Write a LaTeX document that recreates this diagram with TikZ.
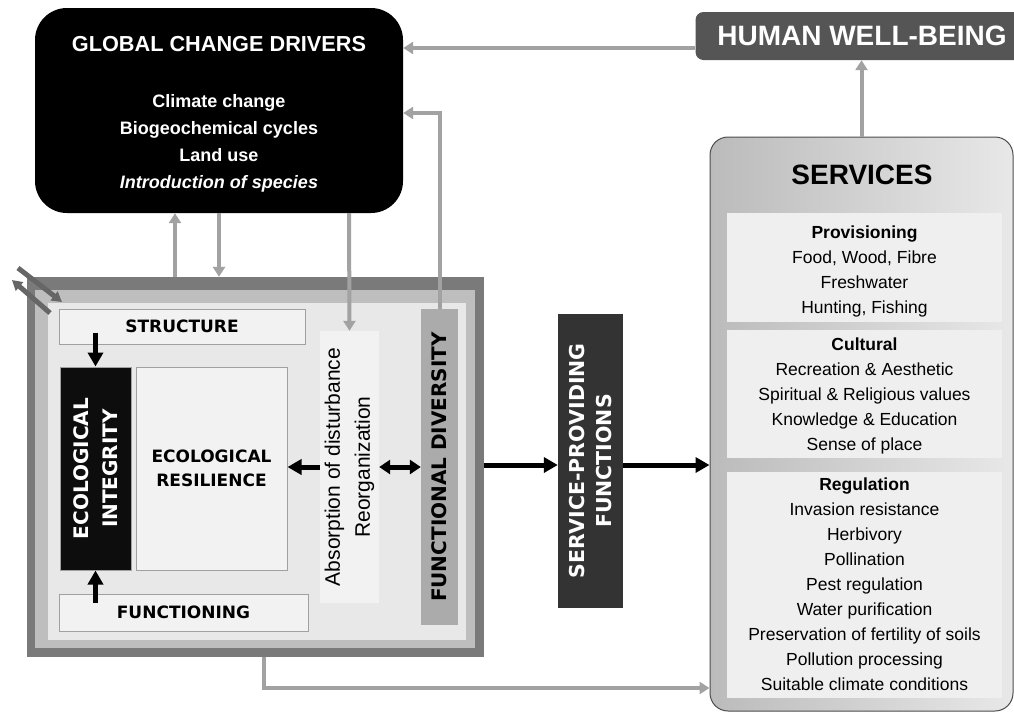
\documentclass[tikz,border=0pt]{standalone}
\usepackage{fontspec}
\setmainfont{Liberation Sans}
\newfontfamily\verdfont{DejaVu Sans}
\usetikzlibrary{arrows.meta}
\definecolor{arrowgray}{HTML}{A2A2A2}
\definecolor{cornergray}{HTML}{666666}
\definecolor{hwbgray}{HTML}{555555}
\definecolor{servleft}{HTML}{BBBBBB}
\definecolor{servright}{HTML}{E8E8E8}
\definecolor{sectionfill}{HTML}{EFEFEF}
\definecolor{framedark}{HTML}{7A7A7A}
\definecolor{frameband}{HTML}{BEBEBE}
\definecolor{framelight}{HTML}{E8E8E8}
\definecolor{boxlight}{HTML}{F2F2F2}
\definecolor{boxline}{HTML}{A0A0A0}
\definecolor{fdivgray}{HTML}{ABABAB}
\definecolor{spfdark}{HTML}{333333}
\tikzset{
    grayarrow/.style={-{Triangle[length=10pt,width=12pt]}, line width=4pt, arrowgray},
    blackarrow/.style={-{Triangle[length=14pt,width=15pt]}, line width=5pt, black},
    dblarrow/.style={{Triangle[length=11pt,width=14pt]}-{Triangle[length=11pt,width=14pt]}, line width=5pt, black},
    cornerarrow/.style={-{Triangle[length=10pt,width=11pt]}, line width=5pt, cornergray},
    panel/.style={inner sep=0pt, align=center},
    framebox/.style={panel, fill=boxlight, draw=boxline, line width=1pt},
    framelabel/.style={font={\verdfont\bfseries\fontsize{17}{24}\selectfont}},
    secbox/.style={panel, fill=sectionfill, minimum width=275},
    servtext/.style={panel, font={\fontsize{17.5}{25}\selectfont}}
}
\begin{document}
\begin{tikzpicture}[x=1pt, y=-1pt]
    \clip (0,0) rectangle (1014,713);
    % drivers and well-being
    \node[panel, fill=black, rounded corners=32pt, minimum width=368, minimum height=205] (gcd) at (219,110.5) {};
    \node[panel, text=white, font={\bfseries\fontsize{18}{27}\selectfont}] (gcdtext) at ([yshift=-4pt]gcd)
        {{\fontsize{21.7}{27}\selectfont GLOBAL CHANGE DRIVERS}\\[29pt]
         Climate change\\Biogeochemical cycles\\Land use\\\textit{Introduction of species}};
    \node[panel, fill=hwbgray, text=white, rounded corners=8pt, minimum width=333, minimum height=48,
          font={\bfseries\fontsize{28}{30}\selectfont}] (hwb) at (862,36) {HUMAN WELL-BEING};

    % services column
    \node[draw=gray!60!black, line width=1pt, rounded corners=18pt, left color=servleft, right color=servright,
          minimum width=303, minimum height=574] (services) at (861.5,424) {};
    \node[panel, font={\bfseries\fontsize{28}{30}\selectfont}] (servtitle) at (862,175) {SERVICES};
    \node[secbox, minimum height=109] (provbox) at (864.5,267.5) {};
    \node[secbox, minimum height=128] (cultbox) at (864.5,394) {};
    \node[secbox, minimum height=226] (regbox) at (864.5,585) {};
    \node[servtext] (prov) at ([yshift=-4pt]provbox)
        {\textbf{Provisioning}\\Food, Wood, Fibre\\Freshwater\\Hunting, Fishing};
    \node[servtext] (cult) at ([yshift=-2pt]cultbox)
        {\textbf{Cultural}\\Recreation \& Aesthetic\\Spiritual \& Religious values\\Knowledge \& Education\\Sense of place};
    \node[servtext] (reg) at ([yshift=1pt]regbox)
        {\textbf{Regulation}\\Invasion resistance\\Herbivory\\Pollination\\Pest regulation\\Water purification\\
         Preservation of fertility of soils\\Pollution processing\\Suitable climate conditions};

    % ecosystem frame
    \node[fill=framedark, minimum width=457, minimum height=380] (frame) at (255.5,467) {};
    \fill[frameband] (35,290) rectangle (475,648);
    \fill[framelight] (48,303) rectangle (466,640);

    \node[framebox, framelabel, minimum width=246, minimum height=35] (structure) at (182,326.5) {STRUCTURE};
    \node[framebox, framelabel, minimum width=249, minimum height=37] (functioning) at (183.5,612.5) {FUNCTIONING};
    % rotated boxes: east is the top, north is the left side
    \node[panel, fill=black!95, draw=boxline, line width=1pt, text=white, rotate=90, minimum width=203, minimum height=71,
          font={\verdfont\bfseries\fontsize{20}{29}\selectfont}] (integrity) at (95.5,468.5) {ECOLOGICAL\\INTEGRITY};
    \node[framebox, framelabel, minimum width=151, minimum height=203] (resilience) at (211.5,468.5) {ECOLOGICAL\\RESILIENCE};
    \node[panel, fill=boxlight, rotate=90, minimum width=272, minimum height=59,
          font={\fontsize{21}{30}\selectfont}] (absorb) at (349.5,467) {Absorption of disturbance\\Reorganization};
    \node[panel, fill=fdivgray, rotate=90, minimum width=316, minimum height=37,
          font={\verdfont\bfseries\fontsize{20}{24}\selectfont}] (fdiv) at (439.5,467) {FUNCTIONAL DIVERSITY};
    \node[panel, fill=spfdark, text=white, rotate=90, minimum width=294, minimum height=65,
          font={\verdfont\bfseries\fontsize{20.5}{27}\selectfont}] (spf) at (590.5,461) {SERVICE-PROVIDING\\FUNCTIONS};

    % flows inside the frame
    \draw[blackarrow] ([yshift=12pt]structure.south -| integrity) -- (integrity.east);
    \draw[blackarrow] ([yshift=-9pt]functioning.north -| integrity) -- (integrity.west);
    \draw[blackarrow] (absorb.north) -- (absorb.north -| resilience.east);
    \draw[dblarrow] (absorb.south) -- (fdiv.north);
    \draw[cornerarrow] (18,268) -- (62,302);
    \draw[cornerarrow] (50,313) -- (12,280);

    % towards services
    \draw[blackarrow] (frame.east |- 0,465) -- (spf.north |- 0,465);
    \draw[blackarrow] (spf.south |- 0,465) -- (services.west |- 0,465);

    % feedbacks
    \draw[grayarrow] (frame.north -| 175,0) -- (gcd.south -| 175,0);
    \draw[grayarrow] (gcd.south -| 219,0) -- (frame.north -| 219,0);
    \draw[grayarrow] (gcd.south -| 349,0) -- (absorb.east);
    \draw[grayarrow] (fdiv.east) |- (gcd.east |- 0,113);
    \draw[grayarrow] (hwb.west |- 0,48) -- (gcd.east |- 0,48);
    \draw[grayarrow] (services.north) -- (hwb.south -| services.north);
    \draw[grayarrow] (frame.south -| 264,0) |- (services.west |- 0,688);
\end{tikzpicture}
\end{document}
